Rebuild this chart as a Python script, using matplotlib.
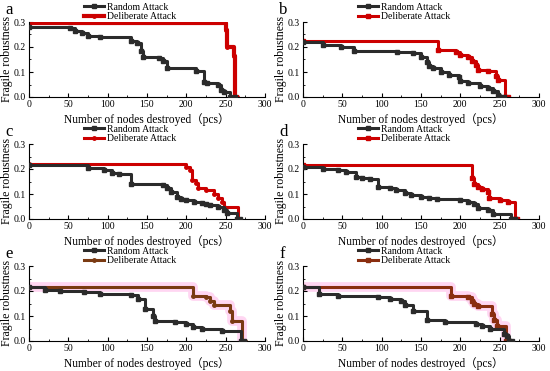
import matplotlib
matplotlib.use("Agg")
import matplotlib.pyplot as plt
from matplotlib.ticker import MultipleLocator, FormatStrFormatter

plt.rcParams['font.family'] = ['Liberation Serif', 'Noto Sans CJK SC']

# Step breakpoints (x where value starts, value); last point is the drop to 0
rand_a_x = [0, 52, 58, 68, 75, 90, 130, 137, 143, 145, 165, 170, 175, 212, 222, 226, 240, 244, 248, 256, 262]
rand_a_y = [0.28, 0.275, 0.265, 0.255, 0.245, 0.24, 0.225, 0.215, 0.185, 0.16, 0.155, 0.145, 0.115, 0.105, 0.06, 0.055, 0.05, 0.03, 0.02, 0.0, 0.0]
del_a_x = [0, 250, 252, 260, 262, 264]
del_a_y = [0.295, 0.27, 0.2, 0.165, 0.0, 0.0]

rand_b_x = [0, 25, 48, 65, 120, 140, 150, 158, 160, 165, 175, 185, 198, 200, 210, 225, 235, 242, 248, 251, 256]
rand_b_y = [0.22, 0.21, 0.2, 0.185, 0.18, 0.175, 0.16, 0.14, 0.125, 0.115, 0.1, 0.09, 0.08, 0.065, 0.055, 0.045, 0.035, 0.025, 0.01, 0.0, 0.0]
del_b_x = [0, 172, 195, 200, 210, 215, 220, 223, 235, 245, 248, 257, 261]
del_b_y = [0.225, 0.19, 0.18, 0.17, 0.16, 0.145, 0.13, 0.11, 0.105, 0.085, 0.07, 0.0, 0.0]

rand_c_x = [0, 75, 95, 105, 115, 130, 170, 175, 180, 188, 193, 200, 210, 220, 225, 230, 240, 248, 252, 264, 268]
rand_c_y = [0.215, 0.205, 0.195, 0.185, 0.18, 0.14, 0.135, 0.125, 0.11, 0.09, 0.08, 0.075, 0.07, 0.065, 0.06, 0.055, 0.05, 0.035, 0.025, 0.0, 0.0]
del_c_x = [0, 200, 205, 207, 212, 215, 225, 235, 240, 245, 248, 266, 268]
del_c_y = [0.22, 0.21, 0.195, 0.155, 0.145, 0.125, 0.115, 0.1, 0.085, 0.07, 0.05, 0.0, 0.0]

rand_d_x = [0, 25, 45, 55, 68, 75, 85, 95, 110, 118, 130, 137, 150, 160, 170, 200, 210, 218, 222, 235, 242, 265, 270]
rand_d_y = [0.21, 0.2, 0.195, 0.19, 0.17, 0.165, 0.16, 0.13, 0.125, 0.115, 0.105, 0.095, 0.09, 0.085, 0.082, 0.078, 0.07, 0.06, 0.045, 0.035, 0.022, 0.0, 0.0]
del_d_x = [0, 215, 217, 222, 228, 235, 237, 250, 260, 269, 272]
del_d_y = [0.215, 0.165, 0.14, 0.13, 0.12, 0.11, 0.085, 0.075, 0.07, 0.0, 0.0]

rand_e_x = [0, 20, 40, 70, 90, 130, 138, 148, 158, 160, 185, 200, 208, 220, 245, 270, 273]
rand_e_y = [0.215, 0.205, 0.2, 0.195, 0.19, 0.185, 0.17, 0.13, 0.1, 0.08, 0.075, 0.07, 0.055, 0.05, 0.04, 0.0, 0.0]
del_e_x = [0, 208, 225, 230, 235, 255, 258, 271, 274]
del_e_y = [0.215, 0.18, 0.175, 0.16, 0.145, 0.12, 0.08, 0.0, 0.0]

rand_f_x = [0, 20, 45, 95, 110, 125, 130, 140, 158, 180, 220, 228, 238, 255, 259, 262, 266]
rand_f_y = [0.215, 0.19, 0.18, 0.175, 0.17, 0.16, 0.145, 0.12, 0.085, 0.075, 0.07, 0.06, 0.05, 0.03, 0.02, 0.0, 0.0]
del_f_x = [0, 188, 210, 215, 218, 222, 240, 243, 247, 258, 262]
del_f_y = [0.215, 0.18, 0.175, 0.16, 0.15, 0.14, 0.11, 0.085, 0.06, 0.0, 0.0]

panels = [
    ("a", rand_a_x, rand_a_y, del_a_x, del_a_y, '#cc0000', 'o', 3.0),
    ("b", rand_b_x, rand_b_y, del_b_x, del_b_y, '#cc0000', 's', 2.2),
    ("c", rand_c_x, rand_c_y, del_c_x, del_c_y, '#cc0000', 'o', 2.2),
    ("d", rand_d_x, rand_d_y, del_d_x, del_d_y, '#cc0000', 's', 2.2),
    ("e", rand_e_x, rand_e_y, del_e_x, del_e_y, '#7a3a12', 'o', 2.2),
    ("f", rand_f_x, rand_f_y, del_f_x, del_f_y, '#8a2e10', 's', 2.2),
]

W, H = 550, 371
fig = plt.figure(figsize=(5.5, 3.71), dpi=100)

lefts = [29, 303]
tops = [22, 144, 266]
aw, ah = 236, 75

for i, (lab, rx, ry, dx, dy, dcol, dmk, dlw) in enumerate(panels):
    col = i % 2
    row = i // 2
    l = lefts[col]
    t = tops[row]
    ax = fig.add_axes([l / W, 1 - (t + ah) / H, aw / W, ah / H])
    if lab in ('e', 'f'):
        ax.step(dx, dy, where='post', color='#ffd6f2', lw=7, zorder=1, solid_capstyle='butt')
    ax.step(rx, ry, where='post', color='#2b2b2b', lw=2.2, marker='s', markersize=2.5,
            label='Random Attack', zorder=3)
    ax.step(dx, dy, where='post', color=dcol, lw=dlw, marker=dmk, markersize=2.5,
            label='Deliberate Attack', zorder=2)
    ax.set_xlim(0, 300)
    ax.set_ylim(0, 0.3)
    ax.xaxis.set_major_locator(MultipleLocator(50))
    ax.xaxis.set_minor_locator(MultipleLocator(25))
    ax.yaxis.set_major_locator(MultipleLocator(0.1))
    ax.yaxis.set_minor_locator(MultipleLocator(0.05))
    ax.yaxis.set_major_formatter(FormatStrFormatter('%.1f'))
    ax.tick_params(which='both', direction='in', labelsize=7, pad=2)
    ax.tick_params(which='major', length=3)
    ax.tick_params(which='minor', length=1.5)
    for s in ('top', 'right'):
        ax.spines[s].set_visible(False)
    ax.set_xlabel('Number of nodes destroyed（pcs）', fontsize=8.3, labelpad=3)
    ax.set_ylabel('Fragile robustness', fontsize=8.5, labelpad=1)
    ax.legend(loc='upper left', bbox_to_anchor=(0.235, 1.26), frameon=False, fontsize=7,
              handlelength=2.0, handletextpad=0.3, labelspacing=0.05, borderaxespad=0,
              borderpad=0)
    fig.text((l - 24) / W, 1 - (t - 12) / H, lab, fontsize=12, va='center', ha='left')

fig.savefig('out.png', dpi=100)
